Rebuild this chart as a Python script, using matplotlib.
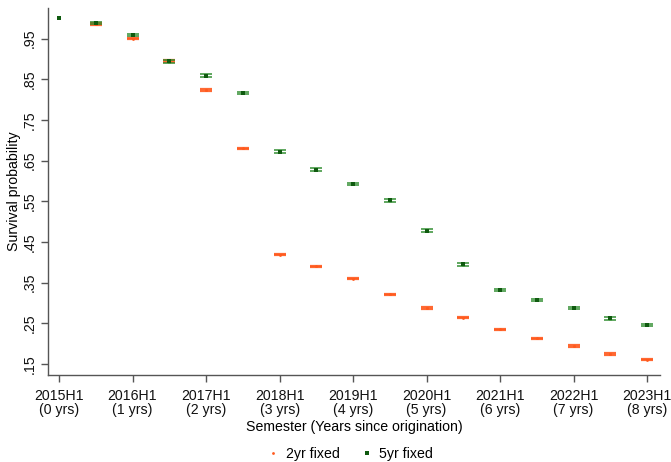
import matplotlib
matplotlib.use("Agg")
import matplotlib.pyplot as plt
import numpy as np

plt.rcParams['font.family'] = ['Liberation Sans', 'DejaVu Sans']

semesters = ["2015H1", "2015H2", "2016H1", "2016H2", "2017H1", "2017H2",
             "2018H1", "2018H2", "2019H1", "2019H2", "2020H1", "2020H2",
             "2021H1", "2021H2", "2022H1", "2022H2", "2023H1"]
tick_labels = ["2015H1\n(0 yrs)", "2016H1\n(1 yrs)", "2017H1\n(2 yrs)",
               "2018H1\n(3 yrs)", "2019H1\n(4 yrs)", "2020H1\n(5 yrs)",
               "2021H1\n(6 yrs)", "2022H1\n(7 yrs)", "2023H1\n(8 yrs)"]

surv_2yr = [1.000, 0.986, 0.950, 0.894, 0.824, 0.680, 0.419, 0.390, 0.360,
            0.321, 0.287, 0.264, 0.235, 0.213, 0.194, 0.174, 0.161]
ci_2yr = [0.000, 0.002, 0.002, 0.002, 0.002, 0.002, 0.002, 0.002, 0.002,
          0.002, 0.002, 0.002, 0.002, 0.002, 0.002, 0.002, 0.002]
surv_5yr = [1.000, 0.988, 0.958, 0.894, 0.859, 0.816, 0.672, 0.628, 0.592,
            0.552, 0.478, 0.395, 0.332, 0.307, 0.287, 0.262, 0.246]
ci_5yr = [0.000, 0.003, 0.003, 0.003, 0.003, 0.003, 0.003, 0.003, 0.003,
          0.003, 0.003, 0.003, 0.003, 0.003, 0.003, 0.003, 0.003]

orange = "#FF5A1E"
green = "#2A8A2A"
dark_green = "#0F5A0F"

fig = plt.figure(figsize=(6.71, 4.62), dpi=100)
ax = fig.add_axes([48 / 671, 1 - 375 / 462, 612 / 671, 367 / 462])

x = np.arange(len(semesters))


def draw_ci(xs, ys, err, color, alpha, capthick):
    # confidence caps only where an interval exists (baseline has none)
    xs, ys, err = np.asarray(xs), np.asarray(ys), np.asarray(err)
    keep = err > 0
    ax.errorbar(xs[keep], ys[keep], yerr=err[keep], fmt='none', ecolor=color,
                elinewidth=2.0, capsize=4.5, capthick=capthick, alpha=alpha)


draw_ci(x, surv_2yr, ci_2yr, orange, 0.9, 1.6)
ax.plot(x, surv_2yr, 'o', color=orange, ms=2.0, mew=0, label="2yr fixed")
draw_ci(x, surv_5yr, ci_5yr, green, 0.75, 1.4)
ax.plot(x, surv_5yr, 's', color=dark_green, ms=2.2, mew=0, label="5yr fixed")

ax.set_xlim(-0.3, 16.35)
ax.set_ylim(0.123, 1.025)

ax.set_xticks(x[::2])
ax.set_xticklabels(tick_labels, fontsize=10.2, linespacing=1.05)
yt = [0.15, 0.25, 0.35, 0.45, 0.55, 0.65, 0.75, 0.85, 0.95]
ax.set_yticks(yt)
ax.set_yticklabels([("%.2f" % v)[1:] for v in yt], fontsize=10.2,
                   rotation=90, va='center')

for s in ["top", "right"]:
    ax.spines[s].set_visible(False)
for s in ["left", "bottom"]:
    ax.spines[s].set_color("#555555")
    ax.spines[s].set_linewidth(1.0)
ax.tick_params(axis='both', direction='out', length=5, width=1.0,
               color="#555555", labelcolor="#111111")
ax.tick_params(axis='x', pad=5)
ax.tick_params(axis='y', pad=3)

ax.set_xlabel("Semester (Years since origination)", fontsize=10.2, labelpad=2)
ax.set_ylabel("Survival probability", fontsize=10.2, labelpad=1.5)

leg = fig.legend(loc='lower center', bbox_to_anchor=(0.523, -0.025), ncol=2,
                 frameon=False, fontsize=10.2, handlelength=0.6,
                 handletextpad=0.6, columnspacing=1.6, markerscale=1.0)

fig.savefig("out.png", dpi=100, facecolor="white")
